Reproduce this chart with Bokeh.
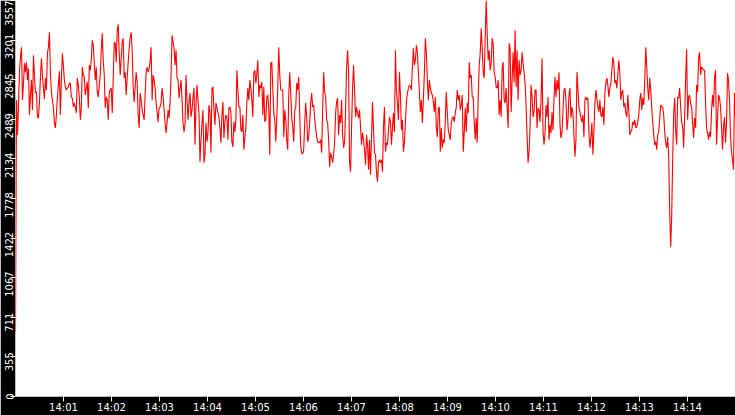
import pandas as pd
from bokeh.plotting import figure
from bokeh.models import Range1d, FixedTicker, DatetimeTickFormatter, ColumnDataSource
from bokeh.embed import file_html
from bokeh.resources import INLINE

# values, in order, 14:00 -> 14:15
part_1 = [581, 2663, 2350, 2618, 2931, 3048, 3137, 2663, 2815, 2994, 2913, 3003, 2842, 2949, 2529, 2708,
          2842, 2574, 3065, 2887, 2726, 2735, 2511, 2502, 2636, 2869, 3039, 2887, 2770, 2672, 2860, 2753,
          3083, 3137, 3271, 2913, 2735, 2663, 2600, 2458, 2413, 2529, 2681, 2797, 2922, 2529, 2842, 3083,
          2976, 2842, 2779, 2753, 2770, 2779, 2815, 2815, 2690, 2681, 2600, 2636, 2600, 2547, 2860, 2797,
          2690, 2485, 2592, 2958, 2887, 2869, 2708, 2770, 2824, 2592, 2976, 2931, 3021, 3200, 3155, 2994,
          2842, 2958, 2735, 2690, 2797, 2887, 3110, 3262, 3021, 2887, 2592]
part_2 = [2690, 2663, 2485, 2726, 2753, 2770, 2547, 2860, 3182, 3173, 3003, 3289, 3342, 3083, 2887, 3039,
          3182, 3217, 2860, 2913, 2708, 2869, 3003, 3128, 3226, 3271, 3110, 2779, 2645, 2779, 2913, 2824,
          2529, 2413, 2726, 2663, 2574, 2529, 2485, 2708, 2913, 2958, 2913, 2949, 3003, 3137, 2663, 2887,
          2842, 2770, 2636, 2556, 2467, 2592, 2600, 2645, 2770, 2690, 2574, 2458, 2368, 2458, 2574, 2502,
          2645, 2887, 3244, 3182, 3128, 2976, 3110, 2860, 2842, 2681, 2770, 2842, 2663, 2458, 2377, 2440,
          2887, 2663, 2485, 2645, 2726, 2511, 2574, 2690, 2770, 2261]
part_3 = [2618, 2797, 2663, 2547, 2109, 2306, 2458, 2574, 2100, 2171, 2458, 2288, 2368, 2618, 2556, 2189,
          2770, 2779, 2574, 2440, 2636, 2600, 2547, 2511, 2413, 2279, 2529, 2645, 2323, 2467, 2529, 2511,
          2306, 2592, 2600, 2547, 2288, 2243, 2467, 2377, 2485, 2931, 2753, 2600, 2600, 2395, 2377, 2529,
          2216, 2323, 2422, 2636, 2770, 2663, 2842, 2770, 2663, 2511, 2913, 2931, 2815, 2904, 3021, 2690,
          2797, 2770, 2824, 2529, 2779, 2467, 2485, 2690, 2708, 2574, 2171, 2994, 3003, 2770, 2547, 2485,
          2288, 2502, 2779, 3137, 2887, 2753, 2753, 2753, 2332, 2574]
part_4 = [2485, 2306, 2216, 2708, 2913, 2726, 2502, 2422, 2288, 2574, 2592, 2815, 2753, 2869, 2547, 2243,
          2189, 2180, 2216, 2458, 2636, 2511, 2288, 2332, 2458, 2636, 2726, 2600, 2618, 2502, 2413, 2332,
          2288, 2279, 2288, 2306, 2189, 2574, 2913, 2735, 2690, 2485, 2458, 2306, 2064, 2189, 2153, 2100,
          2171, 2288, 2547, 2645, 2681, 2350, 2529, 2458, 2663, 2350, 2234, 2279, 2574, 2949, 3110, 2931,
          2100, 2020, 2413, 2770, 2976, 2753, 2511, 2600, 2547, 2502, 2574, 2422, 2261, 2368, 2306, 2216,
          2082, 2350, 2261, 2038, 2306, 1993, 2323, 2645, 2395, 2189]
part_5 = [2171, 2011, 1930, 2100, 2127, 2100, 2127, 2020, 2422, 2600, 2198, 2279, 2261, 2395, 2511, 2467,
          2261, 2413, 2547, 2377, 3110, 2753, 2636, 2485, 2913, 2708, 2395, 2485, 2198, 2279, 2467, 2645,
          2726, 2770, 2797, 2788, 2753, 2958, 3128, 2976, 3021, 3155, 3092, 2913, 2735, 2556, 2663, 2458,
          2663, 2904, 3217, 3083, 2842, 2663, 2842, 2770, 2726, 2708, 2645, 2556, 2690, 2413, 2332, 2592,
          2600, 2198, 2413, 2234, 2306, 2279, 2485, 2735, 2547, 2395, 2350, 2306, 2458, 2502, 2511, 2467,
          2547, 2600, 2753, 2663, 2708, 2574, 2618, 2708, 2198, 2377]
part_6 = [2592, 2377, 2636, 2547, 3003, 2860, 2887, 2690, 2690, 2458, 2306, 2502, 2279, 2690, 2976, 3083,
          3307, 3137, 2913, 2860, 3226, 3557, 3262, 3021, 3110, 2931, 3003, 3217, 3173, 2913, 2869, 2779,
          2770, 2842, 2529, 2663, 2511, 2949, 3003, 2663, 2636, 2770, 2592, 2413, 3173, 3128, 2556, 2842,
          3092, 2824, 3289, 2779, 3110, 2663, 3021, 2887, 2931, 3092, 2994, 2913, 2815, 2618, 2350, 2100,
          2198, 2422, 2797, 2690, 2511, 2556, 2753, 2753, 2413, 2592, 2574, 2467, 2663, 3039, 2377, 2261,
          2368, 2618, 2511, 2690, 2306, 2440, 2368, 2556, 2395, 2681]
part_7 = [2869, 2690, 2842, 2753, 2913, 2440, 2323, 2368, 2574, 2753, 2770, 2663, 2395, 2485, 2708, 2770,
          2502, 2600, 2547, 2350, 2153, 2306, 2913, 2770, 2600, 2556, 2502, 2467, 2529, 2332, 2663, 2690,
          2663, 2681, 2368, 2234, 2323, 2458, 2171, 2377, 2636, 2753, 2681, 2600, 2556, 2663, 2529, 2511,
          2600, 2440, 2726, 2815, 2860, 2797, 2690, 2770, 2815, 2931, 3048, 2994, 2815, 2842, 2770, 2887,
          3021, 2913, 2663, 2735, 2753, 2600, 2636, 2547, 2511, 2708, 2574, 2350, 2377, 2395, 2467, 2440,
          2485, 2413, 2422, 2467, 2529, 2663, 2726, 2574, 2681, 2618]
part_8 = [2842, 3137, 2958, 2770, 2663, 2860, 2753, 2592, 2467, 2350, 2261, 2288, 2216, 2350, 2377, 2502,
          2618, 2600, 2600, 2529, 2377, 2279, 2234, 2332, 2153, 1653, 1341, 1618, 2127, 2529, 2681, 2395,
          2261, 2690, 2681, 2770, 2600, 2467, 2422, 2234, 2511, 2860, 3119, 2485, 2690, 2708, 2636, 2600,
          2458, 2323, 2502, 2413, 2797, 2735, 3039, 3092, 2887, 2958, 2949, 2931, 2931, 2636, 2413, 2368,
          2306, 2377, 2332, 2574, 2708, 2600, 2869, 2931, 2261, 2502, 2708, 2681, 2600, 2422, 2216, 2422,
          2511, 2279, 2458, 2904, 2842, 2663, 2332, 2198, 2127, 2038, 2726, 2502]

values = part_1 + part_2 + part_3 + part_4 + part_5 + part_6 + part_7 + part_8

start = pd.Timestamp("2024-01-01 14:00:00")
end = pd.Timestamp("2024-01-01 14:15:00")
times = pd.date_range(start, end, periods=len(values))

y_ticks = [0, 355, 711, 1067, 1422, 1778, 2134, 2489, 2845, 3201, 3557]
y_tick_labels = ["0", "355", "711", "1067", "1422", "1778", "2134", "2489", "2845", "3201", "3557"]
x_tick_labels = ["14:01", "14:02", "14:03", "14:04", "14:05", "14:06", "14:07",
                 "14:08", "14:09", "14:10", "14:11", "14:12", "14:13", "14:14"]
x_ticks = [float((start + pd.Timedelta(minutes=i + 1)).value // 10**6) for i in range(len(x_tick_labels))]

src = ColumnDataSource(dict(t=times, v=values))

p = figure(width=735, height=415, x_axis_type="datetime", output_backend="svg",
           toolbar_location=None,
           x_range=Range1d(start.to_pydatetime(), end.to_pydatetime()),
           y_range=Range1d(0, max(y_ticks)))
p.line("t", "v", source=src, line_color="#ff0000", line_width=1.1)

p.background_fill_color = "white"
p.border_fill_color = "black"
p.outline_line_color = None
p.min_border_top = 0
p.min_border_right = 0
p.min_border_left = 15
p.min_border_bottom = 17
p.xgrid.visible = False
p.ygrid.visible = False

for ax in (p.xaxis[0], p.yaxis[0]):
    ax.axis_line_color = None
    ax.major_tick_line_color = "white"
    ax.major_tick_in = 0
    ax.major_tick_out = 5
    ax.minor_tick_line_color = None
    ax.major_label_text_color = "white"
    ax.major_label_text_font = "DejaVu Sans"
    ax.major_label_text_font_size = "10px"
    ax.major_label_standoff = 0

# y axis labels hang just below their ticks (as in the original); end labels are kept in the canvas
NBSP = "\u00a0"


def y_label(lab, tick):
    if tick == max(y_ticks) or tick == min(y_ticks):
        return lab
    return lab + NBSP * len(lab)


p.yaxis[0].ticker = FixedTicker(ticks=y_ticks)
p.yaxis[0].major_label_orientation = "vertical"
p.yaxis[0].major_label_standoff = -5
p.yaxis[0].major_label_overrides = {t: y_label(lab, t) for t, lab in zip(y_ticks, y_tick_labels)}

p.xaxis[0].ticker = FixedTicker(ticks=x_ticks)
p.xaxis[0].formatter = DatetimeTickFormatter(minutes="%H:%M", minsec="%H:%M", hourmin="%H:%M",
                                             seconds="%H:%M", hours="%H:%M")
p.xaxis[0].major_label_overrides = {t: lab for t, lab in zip(x_ticks, x_tick_labels)}

open("out.html", "w").write(file_html(p, INLINE))
